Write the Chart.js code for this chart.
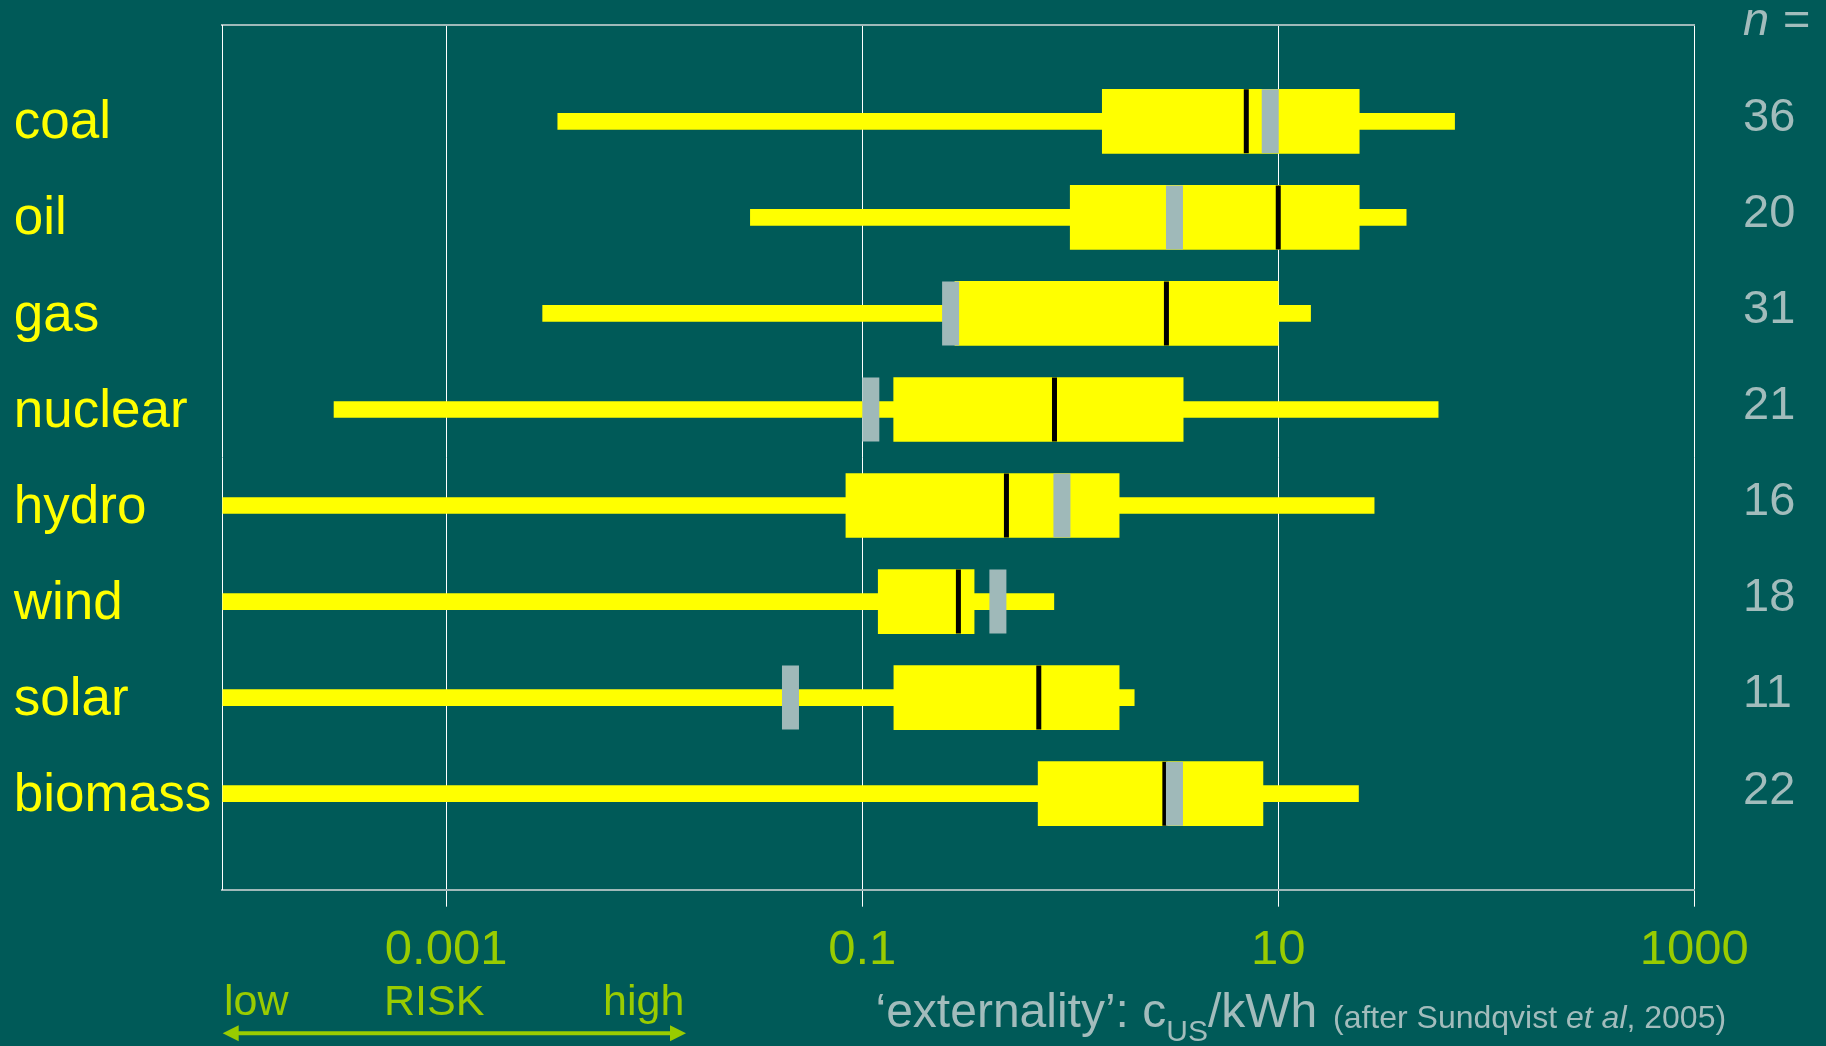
<!DOCTYPE html>
<html>
<head>
<meta charset="utf-8">
<title>Externality ranges by energy source</title>
<script src="https://cdn.jsdelivr.net/npm/chart.js@4.4.1/dist/chart.umd.min.js"></script>
<style>
  html, body { margin: 0; padding: 0; background: #005a58; }
  #wrap { position: relative; width: 1826px; height: 1046px; }
</style>
</head>
<body>
<div id="wrap"><canvas id="chart"></canvas></div>
<script>
// Energy sources, one row each (top to bottom)
const categories = ['coal', 'oil', 'gas', 'nuclear', 'hydro', 'wind', 'solar', 'biomass'];
// Number of studies per source
const nValues = [36, 20, 31, 21, 16, 18, 11, 22];

// Externality estimates, US cents per kWh
const X_MIN = 8.4e-5;   // left end of the axis
const X_MAX = 1000;
const lowValues    = [0.00344, 0.0290, 0.00291, 0.000289, X_MIN, X_MIN, X_MIN, X_MIN];
const q1Values     = [1.426, 1.00, 0.279, 0.1417, 0.0835, 0.1194, 0.1420, 0.701];
const medianValues = [7.02, 10.0, 2.90, 0.840, 0.4935, 0.290, 0.706, 2.85];
const meanValues   = [9.15, 3.17, 0.266, 0.110, 0.912, 0.449, 0.0452, 3.17];
const q3Values     = [24.5, 24.5, 10.0, 3.49, 1.718, 0.345, 1.718, 8.44];
const highValues   = [70.4, 41.2, 14.3, 58.7, 28.9, 0.834, 2.03, 24.3];

// Axis ticks
const xTickValues = [0.001, 0.1, 10, 1000];
const xTickLabels = ['0.001', '0.1', '10', '1000'];

const FONT = "'Liberation Sans', Arial, Helvetica, sans-serif";
const YELLOW = '#ffff00';
const GREEN = '#99cc00';
const PALE = '#9fb9b9';
const TEXT_GREY = '#a2bcbc';

const rows = categories.map((_, i) => i + 1);
const rangeData  = rows.map((y, i) => ({ y, x: [lowValues[i], highValues[i]] }));
const boxData    = rows.map((y, i) => ({ y, x: [q1Values[i], q3Values[i]] }));
const medianData = rows.map((y, i) => ({ x: medianValues[i], y }));
const meanData   = rows.map((y, i) => ({ x: meanValues[i], y }));

// Captions below the axis: risk direction arrow and unit / source line
const captions = {
  id: 'captions',
  afterDraw(chart) {
    const c = chart.ctx;
    c.save();
    c.textAlign = 'left';
    c.textBaseline = 'alphabetic';

    // low — RISK — high
    c.fillStyle = GREEN;
    c.font = `43px ${FONT}`;
    c.fillText('low', 224, 1015);
    c.fillText('RISK', 384, 1015);
    c.fillText('high', 603, 1015);

    // double-headed arrow
    const ay = 1033.3, ax0 = 222.7, ax1 = 686;
    c.strokeStyle = GREEN;
    c.lineWidth = 4;
    c.beginPath();
    c.moveTo(ax0 + 12, ay);
    c.lineTo(ax1 - 12, ay);
    c.stroke();
    c.beginPath();
    c.moveTo(ax0, ay); c.lineTo(ax0 + 16, ay - 8); c.lineTo(ax0 + 16, ay + 8); c.closePath();
    c.fill();
    c.beginPath();
    c.moveTo(ax1, ay); c.lineTo(ax1 - 16, ay - 8); c.lineTo(ax1 - 16, ay + 8); c.closePath();
    c.fill();

    // 'externality': cUS/kWh
    c.fillStyle = TEXT_GREY;
    let x = 875.5;
    c.font = `48px ${FONT}`;
    const main = '\u2018externality\u2019: c';
    c.fillText(main, x, 1027);
    x += c.measureText(main).width;
    c.font = `30px ${FONT}`;
    c.fillText('US', x, 1041);
    x += c.measureText('US').width;
    c.font = `48px ${FONT}`;
    c.fillText('/kWh', x, 1027);

    // (after Sundqvist et al, 2005)
    x = 1333;
    const parts = [['(after Sundqvist ', 'normal'], ['et al', 'italic'], [', 2005)', 'normal']];
    for (const [t, style] of parts) {
      c.font = `${style} 32px ${FONT}`;
      c.fillText(t, x, 1028);
      x += c.measureText(t).width;
    }
    c.restore();
  }
};

const zeroPadding = s => { s.paddingTop = 0; s.paddingBottom = 0; s.paddingLeft = 0; s.paddingRight = 0; };

new Chart(document.getElementById('chart'), {
  type: 'scatter',
  data: {
    datasets: [
      {
        type: 'bar', label: 'range', data: rangeData, indexAxis: 'y',
        xAxisID: 'x', yAxisID: 'y', grouped: false, barThickness: 16,
        backgroundColor: YELLOW, borderWidth: 0, order: 4
      },
      {
        type: 'bar', label: 'interquartile', data: boxData, indexAxis: 'y',
        xAxisID: 'x', yAxisID: 'y', grouped: false, barThickness: 64,
        backgroundColor: YELLOW, borderWidth: 0, order: 3
      },
      {
        label: 'median', data: medianData, xAxisID: 'x', yAxisID: 'y',
        showLine: false, pointStyle: 'line', pointRotation: 90, pointRadius: 32,
        pointBorderWidth: 5, pointBorderColor: '#000000', pointBackgroundColor: '#000000',
        order: 2
      },
      {
        label: 'mean', data: meanData, xAxisID: 'x', yAxisID: 'y',
        showLine: false, pointStyle: 'line', pointRotation: 90, pointRadius: 32,
        pointBorderWidth: 17, pointBorderColor: PALE, pointBackgroundColor: PALE,
        order: 1
      }
    ]
  },
  options: {
    responsive: true,
    maintainAspectRatio: false,
    animation: false,
    events: [],
    layout: { autoPadding: false, padding: { top: 25.3, left: 13.8, right: 0, bottom: 0 } },
    plugins: { legend: { display: false }, tooltip: { enabled: false } },
    scales: {
      x: {
        type: 'logarithmic', position: 'bottom', min: X_MIN, max: X_MAX, z: 1,
        offset: false, beginAtZero: false,
        afterBuildTicks: s => { s.ticks = xTickValues.map(v => ({ value: v })); },
        afterFit: s => { s.height = 156.3; zeroPadding(s); },
        grid: { offset: false, color: '#ffffff', lineWidth: 1, drawTicks: true, tickLength: 17, tickColor: '#ffffff', tickWidth: 1 },
        border: { display: true, color: PALE, width: 2 },
        ticks: {
          autoSkip: false, maxRotation: 0, minRotation: 0, padding: 14.6,
          color: GREEN, font: { family: FONT, size: 49 },
          callback: (v, i) => xTickLabels[i]
        }
      },
      xTop: {
        type: 'linear', position: 'top', min: 0, max: 1, offset: false,
        ticks: { display: false },
        grid: { display: false, drawTicks: false },
        border: { display: true, color: PALE, width: 2 },
        afterFit: s => { s.height = 0; zeroPadding(s); }
      },
      y: {
        type: 'linear', position: 'left', reverse: true, min: 0, max: 9,
        offset: false,
        afterBuildTicks: s => { s.ticks = rows.map(v => ({ value: v })); },
        afterFit: s => { s.width = 208.6; zeroPadding(s); },
        grid: { display: false, drawTicks: false, offset: false },
        border: { display: true, color: '#ffffff', width: 1 },
        ticks: {
          crossAlign: 'far', padding: 0, labelOffset: 2.5,
          color: YELLOW, font: { family: FONT, size: 53 },
          callback: (v, i) => categories[i]
        }
      },
      // empty gap between the plot frame and the n = column
      gap: {
        type: 'linear', position: 'right', weight: 0, min: 0, max: 1, offset: false,
        ticks: { display: false },
        grid: { display: false, drawTicks: false },
        border: { display: false },
        afterFit: s => { s.width = 48.7; zeroPadding(s); }
      },
      y2: {
        type: 'linear', position: 'right', weight: 1, reverse: true, min: 0, max: 9,
        offset: false,
        afterBuildTicks: s => { s.ticks = [0, ...rows].map(v => ({ value: v })); },
        afterFit: s => { s.width = 83; zeroPadding(s); },
        grid: { display: false, drawTicks: false },
        border: { display: false },
        ticks: {
          crossAlign: 'near', padding: 0, labelOffset: -3.1,
          color: TEXT_GREY,
          font: ctx => ({ family: FONT, size: 47, style: ctx.index === 0 ? 'italic' : 'normal' }),
          callback: (v, i) => (i === 0 ? 'n =' : String(nValues[i - 1]))
        }
      }
    }
  },
  plugins: [captions]
});
</script>
</body>
</html>
